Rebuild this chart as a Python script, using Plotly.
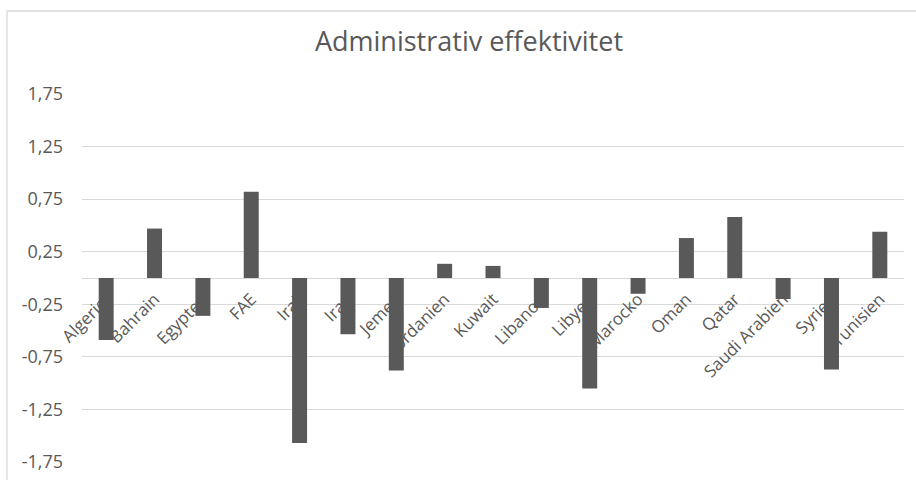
import plotly.graph_objects as go

categories = ["Algeriet", "Bahrain", "Egypten", "FAE", "Irak", "Iran", "Jemen",
              "Jordanien", "Kuwait", "Libanon", "Libyen", "Marocko", "Oman",
              "Qatar", "Saudi Arabien", "Syrien", "Tunisien"]
values = [-0.59, 0.47, -0.36, 0.82, -1.57, -0.535, -0.88, 0.135, 0.115,
          -0.285, -1.05, -0.15, 0.38, 0.58, -0.20, -0.87, 0.44]
y_tickvals = [1.75, 1.25, 0.75, 0.25, -0.25, -0.75, -1.25, -1.75]
y_ticktext = ["1,75", "1,25", "0,75", "0,25", "-0,25", "-0,75", "-1,25", "-1,75"]
title_text = "Administrativ effektivitet"

W, H = 916, 480
L, R, T, B = 82, 12, 94, 18
FONT = "Open Sans"
TXT = "#595959"
GRID = "#d9d9d9"

fig = go.Figure(go.Bar(
    x=categories, y=values, width=0.31,
    marker=dict(color="#595959", line=dict(width=0)),
))

pw = W - L - R
ph = H - T - B
def px_x(p):
    return (p - L) / pw
def px_y(p):
    return (H - B - p) / ph

fig.update_layout(
    width=W, height=H,
    margin=dict(l=L, r=R, t=T, b=B, autoexpand=False),
    paper_bgcolor="white", plot_bgcolor="white",
    showlegend=False,
    title=dict(text=title_text, x=469 / W, xref="container", xanchor="center",
               y=1 - 42 / H, yref="container", yanchor="middle",
               font=dict(family=FONT, size=27, color=TXT)),
    xaxis=dict(type="category", anchor="free", position=0.5,
               tickangle=-45, showgrid=False, showline=False, ticks="",
               zeroline=False, layer="below traces", ticklabelstandoff=7,
               tickfont=dict(family=FONT, size=17, color=TXT)),
    yaxis=dict(range=[-1.75, 1.75], tickvals=y_tickvals, ticktext=y_ticktext,
               showgrid=True, gridcolor=GRID, gridwidth=1,
               zeroline=True, zerolinecolor=GRID, zerolinewidth=1,
               showline=False, ticks="", ticklabelstandoff=18,
               tickfont=dict(family=FONT, size=18, color=TXT)),
    shapes=[
        dict(type="line", xref="paper", yref="paper",
             x0=px_x(7), x1=px_x(7), y0=px_y(11), y1=px_y(500),
             line=dict(color=GRID, width=1.3)),
        dict(type="line", xref="paper", yref="paper",
             x0=px_x(7), x1=px_x(930), y0=px_y(11), y1=px_y(11),
             line=dict(color=GRID, width=1.3)),
    ],
)

fig.write_html("out.html")
